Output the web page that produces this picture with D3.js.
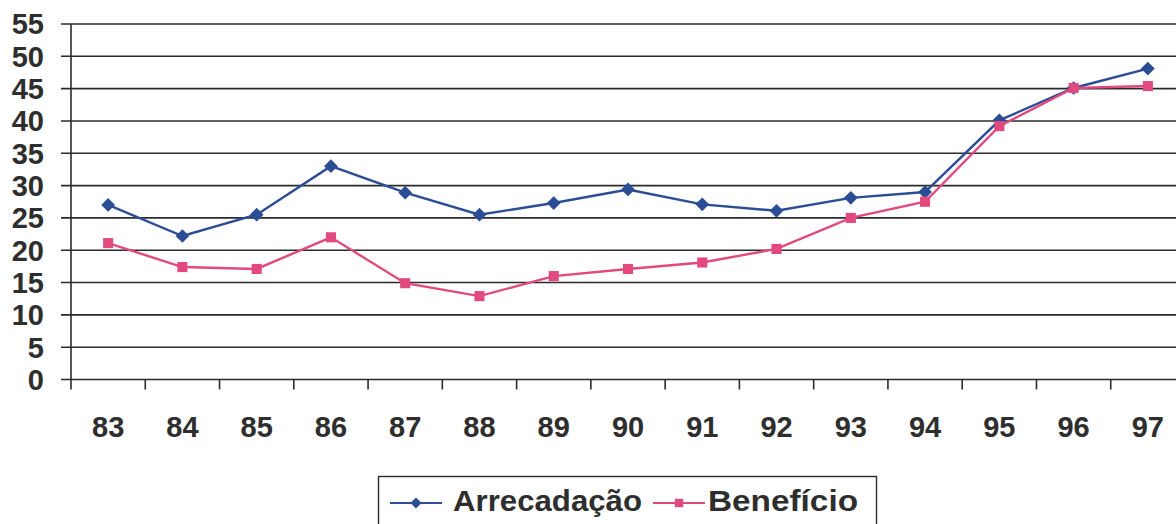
<!DOCTYPE html>
<html>
<head>
<meta charset="utf-8">
<script src="https://cdn.jsdelivr.net/npm/d3@7/dist/d3.min.js"></script>
<style>
  html, body { margin: 0; padding: 0; background: #fff; }
  svg { display: block; font-family: "Liberation Sans", Arial, sans-serif; }
</style>
</head>
<body>
<svg id="chart" width="1176" height="524"></svg>
<script>
// Years shown on the category axis
const years = ["83","84","85","86","87","88","89","90","91","92","93","94","95","96","97"];
// Series values
const arrecadacao = [27.0, 22.2, 25.5, 33.0, 28.9, 25.5, 27.3, 29.4, 27.1, 26.1, 28.1, 29.0, 40.1, 45.1, 48.1];
const beneficio   = [21.1, 17.4, 17.1, 22.0, 14.9, 12.9, 16.0, 17.1, 18.1, 20.2, 25.0, 27.5, 39.2, 45.1, 45.4];
// Value axis ticks
const yTicks = [0, 5, 10, 15, 20, 25, 30, 35, 40, 45, 50, 55];

const series = [
  { name: "Arrecadação", values: arrecadacao, color: "#2a4d95", marker: "diamond" },
  { name: "Benefício",   values: beneficio,   color: "#e2497f", marker: "square" }
];

const svg = d3.select("#chart");
const plotLeft = 71, plotRight = 1185, plotTop = 24, plotBottom = 379.5;

const x = d3.scaleBand().domain(years).range([plotLeft, plotRight]).padding(0);
const y = d3.scaleLinear().domain([0, 55]).range([plotBottom, plotTop]);

const axisColor = "#2b2b2b";
const textColor = "#2e2e2e";
const fontSize = 29;

// Horizontal gridlines with short ticks left of the axis
svg.append("g")
  .selectAll("line")
  .data(yTicks)
  .join("line")
  .attr("x1", plotLeft - 10)
  .attr("x2", 1176)
  .attr("y1", d => y(d))
  .attr("y2", d => y(d))
  .attr("stroke", axisColor)
  .attr("stroke-width", 1.6);

// Value axis labels
svg.append("g")
  .selectAll("text")
  .data(yTicks)
  .join("text")
  .attr("x", 44)
  .attr("y", d => y(d))
  .attr("dy", "0.36em")
  .attr("text-anchor", "end")
  .attr("font-size", fontSize)
  .attr("font-weight", "bold")
  .attr("fill", textColor)
  .text(d => d);

// Vertical axis line
svg.append("line")
  .attr("x1", plotLeft).attr("x2", plotLeft)
  .attr("y1", plotTop).attr("y2", plotBottom + 10)
  .attr("stroke", axisColor)
  .attr("stroke-width", 1.6);

// Category axis: tick marks at band boundaries, labels centred in bands
const xAxis = d3.axisBottom(x).tickSize(0).tickFormat(d => d);
const gx = svg.append("g").attr("transform", `translate(0,${plotBottom})`).call(xAxis);
gx.select(".domain").remove();
gx.selectAll("text")
  .attr("y", 57.5)
  .attr("dy", "0")
  .attr("font-size", fontSize)
  .attr("font-weight", "bold")
  .attr("font-family", "Liberation Sans, Arial, sans-serif")
  .attr("fill", textColor);

svg.append("g")
  .selectAll("line")
  .data(years.slice(1))
  .join("line")
  .attr("x1", d => x(d))
  .attr("x2", d => x(d))
  .attr("y1", plotBottom)
  .attr("y2", plotBottom + 10)
  .attr("stroke", axisColor)
  .attr("stroke-width", 1.6);

// Lines and markers
const line = d3.line()
  .x((d, i) => x(years[i]) + x.bandwidth() / 2)
  .y(d => y(d));

const diamond = d3.symbol().type(d3.symbolDiamond2).size(120);
const square = d3.symbol().type(d3.symbolSquare2).size(130);

series.forEach(s => {
  const g = svg.append("g");
  g.append("path")
    .datum(s.values)
    .attr("d", line)
    .attr("fill", "none")
    .attr("stroke", s.color)
    .attr("stroke-width", 2.4);
  g.selectAll("path.m")
    .data(s.values)
    .join("path")
    .attr("class", "m")
    .attr("transform", (d, i) => `translate(${x(years[i]) + x.bandwidth() / 2},${y(d)})`)
    .attr("d", s.marker === "diamond" ? diamond : square)
    .attr("fill", s.color);
});

// Legend
const legend = svg.append("g");
legend.append("rect")
  .attr("x", 378.5).attr("y", 476.5)
  .attr("width", 498).attr("height", 70)
  .attr("fill", "#fff")
  .attr("stroke", axisColor)
  .attr("stroke-width", 1.4);

const legendItems = [
  { s: series[0], lx: 390, tx: 453, tw: 189 },
  { s: series[1], lx: 653, tx: 708, tw: 150 }
];
legendItems.forEach(({ s, lx, tx, tw }) => {
  const cy = 503;
  legend.append("line")
    .attr("x1", lx).attr("x2", lx + 52)
    .attr("y1", cy).attr("y2", cy)
    .attr("stroke", s.color)
    .attr("stroke-width", 2.2);
  legend.append("path")
    .attr("transform", `translate(${lx + 26},${cy})`)
    .attr("d", (s.marker === "diamond" ? d3.symbol().type(d3.symbolDiamond2).size(80)
                                        : d3.symbol().type(d3.symbolSquare2).size(90))())
    .attr("fill", s.color);
  legend.append("text")
    .attr("x", tx).attr("y", 511)
    .attr("font-size", fontSize)
    .attr("font-weight", "bold")
    .attr("fill", textColor)
    .attr("textLength", tw)
    .attr("lengthAdjust", "spacingAndGlyphs")
    .text(s.name);
});
</script>
</body>
</html>
